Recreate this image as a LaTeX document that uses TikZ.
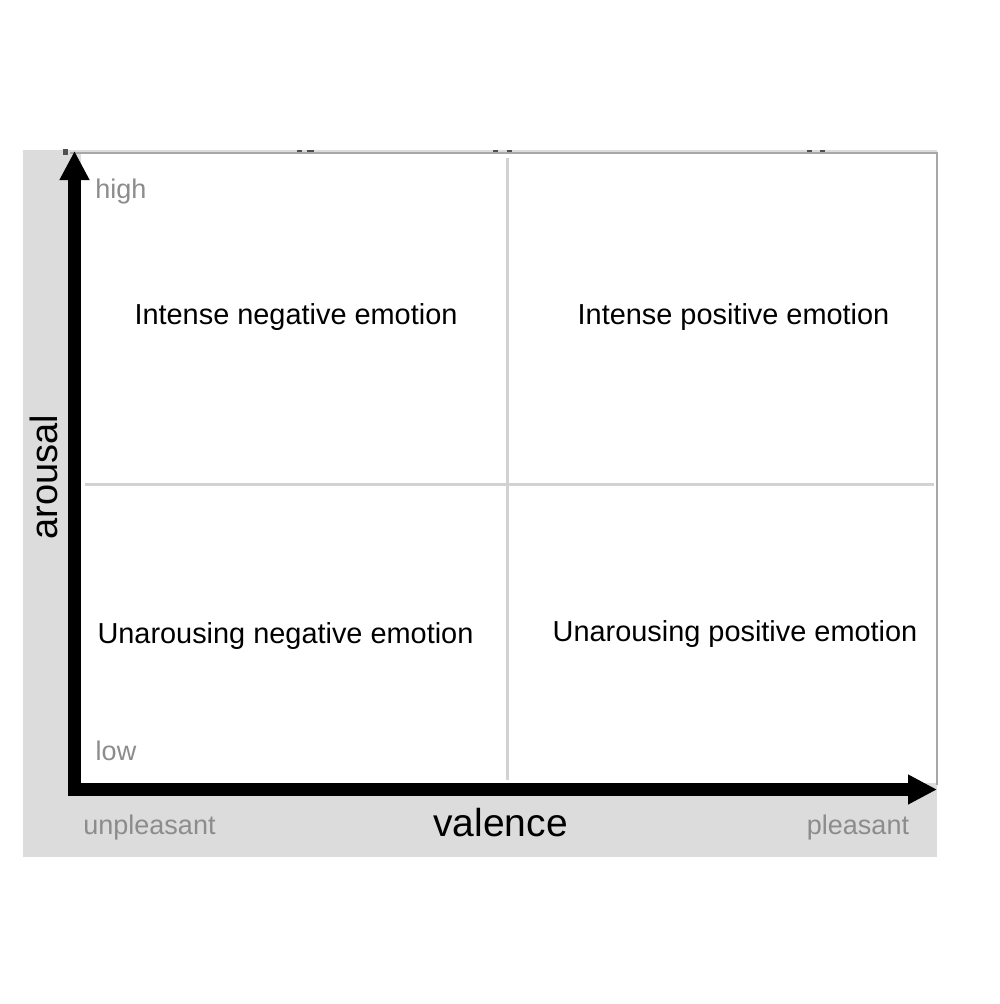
\documentclass[tikz,border=0pt]{standalone}
\usepackage{fontspec}
\setmainfont{Liberation Sans}
\usetikzlibrary{arrows.meta}
\definecolor{panelgray}{HTML}{DCDCDC}
\definecolor{gridgray}{HTML}{D2D2D2}
\definecolor{bordergray}{HTML}{A8A8A8}
\definecolor{labelgray}{HTML}{8C8C8C}
\definecolor{tickdark}{HTML}{505050}
\tikzset{
  quadtext/.style={anchor=center, inner sep=0pt, font=\fontsize{28.9}{34}\selectfont, text=black},
  endlabel/.style={anchor=center, inner sep=0pt, font=\fontsize{27}{32}\selectfont, text=labelgray},
  axistitle/.style={anchor=center, inner sep=0pt, font=\fontsize{39}{46}\selectfont, text=black},
  gridline/.style={draw=gridgray, line width=3pt},
  axisline/.style={draw=black, line width=13pt, line join=miter,
    {Triangle[length=29pt,width=28pt]}-{Triangle[length=29pt,width=28pt]}},
  tickmark/.style={fill=tickdark, draw=none}
}
\begin{document}
\begin{tikzpicture}[x=1pt,y=-1pt]
\useasboundingbox (0,0) rectangle (999,1004);
% background panel
\fill[panelgray] (23,150) rectangle (937,857);
% white plot area
\fill[white] (81,152) rectangle (936,783);
% border lines
\coordinate (tl) at (70,152.5);
\coordinate (tr) at (936.5,152.5);
\coordinate (br) at (936.5,785);
\draw[bordergray, line width=2pt] (tl) -- (tr) -- (br);
% tick marks at top
\fill[tickmark] (63,149) rectangle (68,155);
\fill[tickmark] (297,149.5) rectangle (302,152);
\fill[tickmark] (307,149.5) rectangle (314,152);
\fill[tickmark] (493,149.5) rectangle (498,152);
\fill[tickmark] (507,149.5) rectangle (512,152);
\fill[tickmark] (807,149.5) rectangle (812,152);
\fill[tickmark] (820,149.5) rectangle (825,152);
% grid lines
\coordinate (vtop) at (507.5,158);
\coordinate (vbot) at (507.5,780);
\coordinate (hleft) at (85,484);
\coordinate (hright) at (934,484);
\draw[gridline] (vtop) -- (vbot);
\draw[gridline] (hleft) -- (hright);
% axes
\coordinate (ytip) at (74.5,151);
\coordinate (orig) at (74.5,789.5);
\coordinate (xtip) at (937,789.5);
\draw[axisline] (ytip) -- (orig) -- (xtip);
% labels
\node[endlabel] (high) at (121,191.5) {high};
\node[endlabel] (low) at (116,751) {low};
\node[endlabel] (unpl) at (149.5,827.5) {unpleasant};
\node[endlabel] (pl) at (858,827.5) {pleasant};
\node[axistitle] (val) at (500.5,822.5) {valence};
\node[axistitle, rotate=90, font=\fontsize{38}{45}\selectfont] (aro) at (44,477) {arousal};
% quadrant texts
\node[quadtext] (inneg) at (296,317) {Intense negative emotion};
\node[quadtext] (inpos) at (733.5,317) {Intense positive emotion};
\node[quadtext] (unneg) at (285.5,636) {Unarousing negative emotion};
\node[quadtext] (unpos) at (735,634) {Unarousing positive emotion};
\end{tikzpicture}
\end{document}
